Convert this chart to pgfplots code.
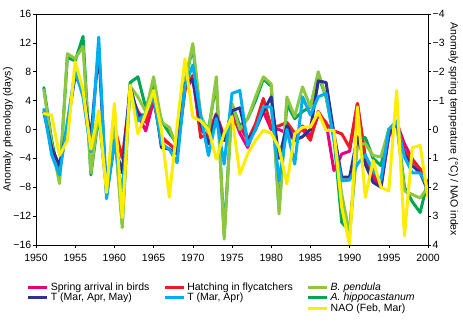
\documentclass[border=0pt]{standalone}
\usepackage{pgfplots}
\pgfplotsset{compat=1.18}
\usepackage{pgfplotstable}
\usepackage{fontspec}
\setmainfont{Liberation Sans}
\definecolor{cMag}{RGB}{230,0,126}
\definecolor{cRed}{RGB}{237,28,36}
\definecolor{cLG}{RGB}{141,198,63}
\definecolor{cGr}{RGB}{0,166,81}
\definecolor{cDB}{RGB}{46,49,146}
\definecolor{cCy}{RGB}{0,174,239}
\definecolor{cYe}{RGB}{255,237,0}

% left axis series: days
\pgfplotstableread{
year mag red lg gr
1951 nan nan 5.5 5.8
1952 nan nan -2.0 -1.5
1953 nan nan -7.5 -6.8
1954 nan nan 10.5 10.0
1955 nan nan 9.8 9.5
1956 nan nan 11.5 12.9
1957 nan nan -6.0 -6.3
1958 nan nan 2.5 2.0
1959 nan nan -8.0 -8.5
1960 nan 0.5 0.5 0.5
1961 nan -4.0 -13.6 -13.0
1962 5.5 5.0 6.0 6.5
1963 2.0 2.5 4.5 7.3
1964 -0.2 1.0 2.5 3.0
1965 4.0 4.5 7.3 6.0
1966 -1.3 -1.0 1.0 1.2
1967 -2.0 -2.0 0.3 -0.5
1968 -3.0 -3.0 -2.5 -2.0
1969 5.5 5.5 6.5 6.5
1970 7.0 7.5 11.9 11.5
1971 0.0 -1.1 2.0 1.5
1972 -1.0 -0.5 -0.5 0.0
1973 1.5 2.2 7.3 6.5
1974 -1.5 -1.0 -15.2 -14.5
1975 2.5 1.0 3.6 3.5
1976 -0.5 0.5 0.0 0.5
1977 -2.5 -1.5 1.5 1.5
1978 0.5 0.8 4.5 4.0
1979 2.5 4.3 7.3 7.0
1980 0.0 0.3 6.3 6.0
1981 0.0 0.5 -11.7 -11.0
1982 -0.5 1.0 4.5 3.5
1983 -1.5 -0.5 1.8 1.5
1984 0.5 0.0 5.9 2.5
1985 -1.0 -1.5 3.1 3.1
1986 2.0 2.5 8.0 7.5
1987 1.0 0.8 4.5 4.5
1988 -5.7 -0.2 -1.0 -1.0
1989 -3.4 -0.6 -9.0 -12.9
1990 -3.0 -2.5 -14.5 -14.0
1991 3.6 3.6 -2.0 -1.5
1992 -4.0 -3.8 -2.0 -1.1
1993 -6.6 -6.0 -3.6 -4.0
1994 -8.0 -7.5 -3.8 -5.0
1995 -1.0 -0.5 0.0 0.0
1996 1.0 1.0 1.0 1.0
1997 -2.0 -3.0 -8.5 -8.0
1998 -4.1 -4.3 -9.0 -10.0
1999 -5.5 -5.5 -9.5 -11.5
2000 -8.0 -8.0 -8.0 -7.0
}\lefttable

% right axis series: degC / NAO index
\pgfplotstableread{
year db cy nao
1951 -0.60 -0.70 -0.55
1952 0.63 0.88 -0.50
1953 1.25 1.58 0.90
1954 -0.13 -0.25 0.38
1955 -1.88 -2.05 -2.35
1956 -1.35 -1.13 -1.38
1957 0.25 0.78 0.68
1958 -2.75 -3.20 -0.65
1959 2.25 2.40 2.18
1960 0.50 0.38 -0.90
1961 1.50 2.25 3.05
1962 -1.50 -1.38 -1.53
1963 -0.50 -0.30 0.15
1964 -0.50 -0.55 -0.55
1965 -1.25 -1.13 -1.35
1966 0.63 0.50 0.03
1967 0.68 0.68 2.35
1968 0.85 1.15 -0.13
1969 -1.58 -1.50 -2.45
1970 -1.75 -2.23 -0.43
1971 -0.20 -0.50 -0.30
1972 0.50 0.90 0.00
1973 -0.50 -0.38 1.03
1974 0.38 1.20 0.13
1975 -0.65 -1.25 -0.45
1976 -0.75 -1.35 1.55
1977 0.38 0.55 0.85
1978 0.00 0.00 0.38
1979 -0.63 -0.78 0.03
1980 -1.13 -0.78 0.13
1981 1.00 1.78 0.63
1982 -0.13 0.00 1.88
1983 0.38 1.20 0.15
1984 0.25 -1.13 -0.08
1985 0.00 -0.50 -0.08
1986 -1.68 -1.13 -0.60
1987 -1.63 -1.25 0.03
1988 0.13 0.38 0.03
1989 1.65 1.78 2.70
1990 1.65 1.75 4.00
1991 0.25 1.20 -0.78
1992 1.20 0.88 2.35
1993 1.83 1.43 1.08
1994 2.00 1.75 2.00
1995 0.13 0.00 2.13
1996 -0.20 -0.30 -1.35
1997 0.88 0.95 3.68
1998 1.25 1.50 0.63
1999 1.50 1.50 0.55
2000 2.13 2.00 2.35
}\righttable

\pgfplotsset{
  every axis/.append style={
    scale only axis, width=392pt, height=231pt,
    xmin=1950, xmax=2000,
    tick align=outside, major tick length=3pt,
    tick style={black, line width=0.5pt},
    axis line style={line width=0.6pt},
    tick label style={font=\fontsize{10.5}{12}\selectfont, inner sep=1.5pt},
    label style={font=\fontsize{10.5}{12}\selectfont},
  },
  ser/.style={line width=3pt, line join=round, line cap=round, no markers},
}

\begin{document}
\begin{tikzpicture}
\begin{axis}[
  name=main,
  ymin=-16, ymax=16,
  xtick={1950,1955,...,2000},
  xticklabels={1950,1955,1960,1965,1970,1975,1980,1985,1990,1995,2000},
  xticklabel style={yshift=-4pt},
  xtick pos=bottom,
  ytick={-16,-12,...,16},
  yticklabels={−16,−12,−8,−4,0,4,8,12,16},
  ytick pos=left,
  ylabel={Anomaly phenology (days)},
  ylabel style={inner sep=0pt, yshift=-1pt},
]
\addplot[ser, cMag] table[x=year,y=mag]{\lefttable};
\addplot[ser, cRed] table[x=year,y=red]{\lefttable};
\addplot[ser, cGr] table[x=year,y=gr]{\lefttable};
\addplot[ser, cLG] table[x=year,y=lg]{\lefttable};
\end{axis}
\begin{axis}[
  ymin=-4, ymax=4, y dir=reverse,
  axis x line=none,
  axis y line*=right,
  ytick={-4,-3,...,4},
  yticklabels={−4,−3,−2,−1,0,1,2,3,4},
  ylabel={Anomaly spring temperature (°C) / NAO index},
  ylabel style={rotate=180, inner sep=0pt, yshift=2pt},
  legend columns=3,
  legend cell align=left,
  legend style={at={(-0.031,-0.145)}, anchor=north west, draw=none, fill=none,
    font=\fontsize{10.5}{12}\selectfont, row sep=-2.5pt,
    /tikz/every even column/.append style={column sep=12pt}},
  legend image code/.code={\draw[#1, line width=2.8pt] (0pt,0pt) -- (19pt,0pt);},
]
\addplot[ser, cDB, forget plot] table[x=year,y=db]{\righttable};
\addplot[ser, cCy, forget plot] table[x=year,y=cy]{\righttable};
\addplot[ser, cYe, forget plot] table[x=year,y=nao]{\righttable};
\addlegendimage{cMag}\addlegendentry{Spring arrival in birds}
\addlegendimage{cRed}\addlegendentry{Hatching in flycatchers}
\addlegendimage{cLG}\addlegendentry{\textit{B. pendula}}
\addlegendimage{cDB}\addlegendentry{T (Mar, Apr, May)}
\addlegendimage{cCy}\addlegendentry{T (Mar, Apr)}
\addlegendimage{cGr}\addlegendentry{\textit{A. hippocastanum}}
\addlegendimage{empty legend}\addlegendentry{}
\addlegendimage{empty legend}\addlegendentry{}
\addlegendimage{cYe}\addlegendentry{NAO (Feb, Mar)}
\end{axis}
\pgfresetboundingbox
\path[use as bounding box] ([shift={(-36pt,-90pt)}]main.south west) rectangle ([shift={(35pt,14pt)}]main.north east);
\end{tikzpicture}
\end{document}
